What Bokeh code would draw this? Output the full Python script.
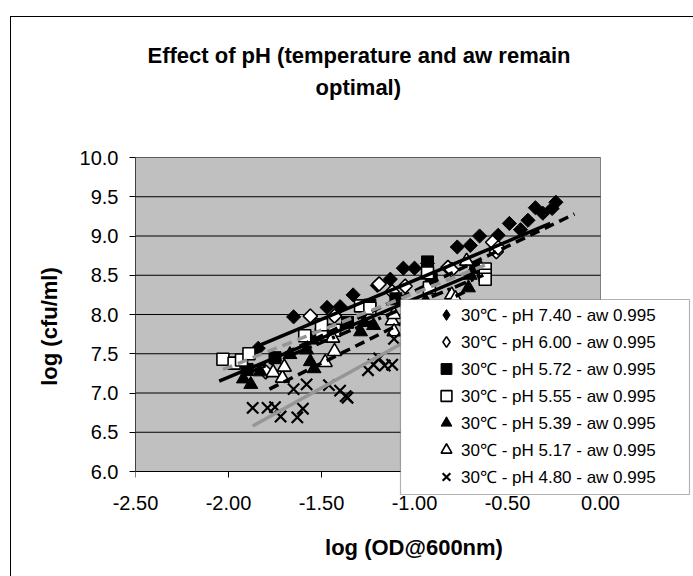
import math
import numpy as np
from bokeh.plotting import figure
from bokeh.models import (Legend, LegendItem, Range1d, FixedTicker,
                          NumeralTickFormatter, Title, BoxAnnotation)
from bokeh.embed import file_html
from bokeh.resources import INLINE

# ---------------- data ----------------
series_labels = [
    "30\u2103 - pH 7.40 - aw 0.995",
    "30\u2103 - pH 6.00 - aw 0.995",
    "30\u2103 - pH 5.72 - aw 0.995",
    "30\u2103 - pH 5.55 - aw 0.995",
    "30\u2103 - pH 5.39 - aw 0.995",
    "30\u2103 - pH 5.17 - aw 0.995",
    "30\u2103 - pH 4.80 - aw 0.995",
]

x_ph740 = [-1.84, -1.65, -1.47, -1.40, -1.33, -1.20, -1.13, -1.06, -1.00, -0.93,
           -0.77, -0.70, -0.65, -0.55, -0.49, -0.43, -0.39, -0.35, -0.31, -0.24, -0.26]
y_ph740 = [7.57, 7.97, 8.09, 8.10, 8.25, 8.37, 8.45, 8.59, 8.59, 8.65,
           8.86, 8.88, 9.00, 9.01, 9.16, 9.08, 9.20, 9.36, 9.29, 9.43, 9.35]

x_ph600 = [-1.80, -1.56, -1.43, -1.19, -1.12, -1.05, -0.82, -0.80, -0.58, -0.56, -0.55]
y_ph600 = [7.27, 7.98, 7.98, 8.39, 8.29, 8.36, 8.60, 8.57, 8.92, 8.80, 8.85]

x_ph572 = [-1.90, -1.75, -1.55, -1.36, -1.24, -1.10, -0.93, -0.91, -0.67, -0.63]
y_ph572 = [7.30, 7.45, 7.70, 7.90, 8.12, 8.20, 8.67, 8.45, 8.60, 8.55]

x_ph555 = [-2.03, -1.97, -1.93, -1.89, -1.59, -1.50, -1.50, -1.43, -1.29, -1.24,
           -0.93, -0.92, -0.62, -0.62, -0.62]
y_ph555 = [7.43, 7.38, 7.42, 7.50, 7.73, 7.75, 7.87, 7.80, 8.11, 8.08,
           8.53, 8.34, 8.58, 8.50, 8.45]

x_ph539 = [-1.92, -1.88, -1.83, -1.67, -1.58, -1.56, -1.54, -1.29, -1.27, -1.22,
           -0.94, -0.71, -0.70]
y_ph539 = [7.18, 7.11, 7.27, 7.49, 7.55, 7.40, 7.31, 7.78, 7.90, 7.86,
           8.17, 8.34, 8.50]

x_ph517 = [-1.76, -1.71, -1.70, -1.48, -1.43, -1.44, -1.12, -1.11, -1.11, -0.80, -0.78, -0.72]
y_ph517 = [7.26, 7.19, 7.33, 7.39, 7.53, 7.70, 7.92, 8.00, 7.78, 8.25, 8.20, 8.68]

x_ph480 = [-1.87, -1.79, -1.75, -1.72, -1.65, -1.63, -1.60, -1.58, -1.46, -1.40,
           -1.37, -1.36, -1.25, -1.22, -1.19, -1.16, -1.12, -1.11]
y_ph480 = [6.81, 6.81, 6.82, 6.70, 7.05, 6.69, 6.80, 7.11, 7.10, 7.03,
           6.96, 6.94, 7.29, 7.36, 7.44, 7.35, 7.36, 7.69]

# linear trend lines (start/end), one per series
trend_x_start = [-1.84, -1.85, -1.90, -2.03, -2.05, -1.78, -1.87]
trend_x_end = [-0.27, -0.14, -0.63, -0.62, -0.70, -0.72, -0.90]
trend_y_start = [7.60, 7.33, 7.25, 7.30, 7.15, 7.05, 6.58]
trend_y_end = [9.16, 9.28, 8.50, 8.63, 8.50, 8.30, 7.85]

x_ticks = [-2.5, -2.0, -1.5, -1.0, -0.5, 0.0]
y_ticks = [6.0, 6.5, 7.0, 7.5, 8.0, 8.5, 9.0, 9.5, 10.0]
x_min, x_max = -2.5, 0.0
y_min, y_max = 6.0, 10.0

xs_all = [x_ph740, x_ph600, x_ph572, x_ph555, x_ph539, x_ph517, x_ph480]
ys_all = [y_ph740, y_ph600, y_ph572, y_ph555, y_ph539, y_ph517, y_ph480]

# ---------------- styles ----------------
FONT = "Liberation Sans"
GRAY = "#969696"
PLOT_BG = "#C0C0C0"
marker_styles = [
    dict(marker="square", angle=math.pi / 4, size=10, fill_color="black", line_color="black", line_width=1),
    dict(marker="square", angle=math.pi / 4, size=10, fill_color="white", line_color="black", line_width=1.6),
    dict(marker="square", angle=0, size=12, fill_color="black", line_color="black", line_width=1),
    dict(marker="square", angle=0, size=12, fill_color="white", line_color="black", line_width=1.6),
    dict(marker="triangle", angle=0, size=14, fill_color="black", line_color="black", line_width=1),
    dict(marker="triangle", angle=0, size=14, fill_color="white", line_color="black", line_width=1.6),
    dict(marker="x", angle=0, size=16, fill_color="black", line_color="black", line_width=2.2),
]
legend_markers = ["diamond", "diamond", "square", "square", "triangle", "triangle", "x"]
line_styles = [
    dict(line_color="black", line_dash="solid"),
    dict(line_color="black", line_dash="10 6"),
    dict(line_color="black", line_dash="12 5 3 5"),
    dict(line_color=GRAY, line_dash="10 6"),
    dict(line_color="black", line_dash="solid"),
    dict(line_color="black", line_dash="10 6"),
    dict(line_color=GRAY, line_dash="solid"),
]

# canvas geometry: plot area x 135..600, y 157..471 ; frame extends to 692 / 495
PX_PER_X = 465 / (x_max - x_min)
PX_PER_Y = 314 / (y_max - y_min)
frame_x_end = x_max + (692 - 600) / PX_PER_X
frame_y_start = y_min - (495 - 471) / PX_PER_Y
TICK_LEN = 6 / PX_PER_Y

p = figure(width=693, height=576, output_backend="svg", toolbar_location=None,
           x_range=Range1d(x_min, frame_x_end), y_range=Range1d(frame_y_start, y_max),
           min_border_left=135, min_border_right=1, min_border_top=157,
           min_border_bottom=81)

p.background_fill_color = "white"
p.border_fill_color = None
p.outline_line_color = None
p.styles = {
    "background-image": "linear-gradient(#000, #000), linear-gradient(#000, #000)",
    "background-size": "1px 100%, 100% 1px",
    "background-position": "10px 16px, 10px 16px",
    "background-repeat": "no-repeat",
}

p.title.visible = False
title_kw = dict(align="left", text_font=FONT, text_font_size="22px",
                text_font_style="bold", text_color="black")
title_spacer = Title(text=" ", standoff=31, **title_kw)
title_line2 = Title(text="optimal)", standoff=0, offset=180, **title_kw)
title_line1 = Title(text="Effect of pH (temperature and aw remain", standoff=10, offset=12, **title_kw)
p.add_layout(title_spacer, "above")
p.add_layout(title_line2, "above")
p.add_layout(title_line1, "above")

p.xgrid.visible = False
p.ygrid.visible = False

p.xaxis.ticker = FixedTicker(ticks=x_ticks)
p.yaxis.ticker = FixedTicker(ticks=y_ticks)
p.xaxis.formatter = NumeralTickFormatter(format="0.00")
p.yaxis.formatter = NumeralTickFormatter(format="0.0")
for ax in (p.xaxis, p.yaxis):
    ax.major_label_text_font = FONT
    ax.major_label_text_font_size = "20px"
    ax.major_label_text_color = "black"
    ax.axis_label_text_font = FONT
    ax.axis_label_text_font_size = "22px"
    ax.axis_label_text_font_style = "bold"
    ax.axis_label_text_color = "black"
    ax.minor_tick_line_color = None
    ax.major_tick_in = 0
    ax.major_tick_line_color = "black"
p.xaxis.bounds = (x_min, x_max)
p.yaxis.bounds = (y_min, y_max)
p.yaxis.major_tick_out = 6
p.xaxis.major_tick_out = 0
p.xaxis.major_tick_line_color = None
p.xaxis.axis_line_color = None
p.yaxis.axis_line_color = "#404040"
p.xaxis.axis_label = "log (OD@600nm)"
p.yaxis.axis_label = "log (cfu/ml)"
p.xaxis.major_label_standoff = 0
p.xaxis.axis_label_standoff = 22
p.yaxis.major_label_standoff = 11
p.yaxis.axis_label_standoff = 15

# plot area, gridlines, x axis line and its tick marks
p.quad(left=[x_min], right=[x_max], bottom=[y_min], top=[y_max],
       fill_color=PLOT_BG, line_color="#808080", line_width=1)
grid_y = [t for t in y_ticks if t > y_min]
p.segment(x0=[x_min] * len(grid_y), y0=grid_y, x1=[x_max] * len(grid_y), y1=grid_y,
          line_color="black", line_width=1)
p.segment(x0=[x_min], y0=[y_min], x1=[x_max], y1=[y_min], line_color="black", line_width=1)
p.segment(x0=x_ticks, y0=[y_min] * len(x_ticks), x1=x_ticks,
          y1=[y_min - TICK_LEN] * len(x_ticks), line_color="black", line_width=1)

for xs, ys, st in zip(xs_all, ys_all, marker_styles):
    p.scatter(xs, ys, **st)

for x0, x1, y0, y1, ls in zip(trend_x_start, trend_x_end, trend_y_start, trend_y_end, line_styles):
    p.line([x0, x1], [y0, y1], line_width=3.5, **ls)

# legend-only renderers (not drawn) so the legend shows Excel-like symbols
legend_renderers = []
for mk, st in zip(legend_markers, marker_styles):
    kw = {k: v for k, v in st.items() if k not in ("marker", "angle", "size")}
    legend_renderers.append(p.scatter(x=np.array([np.nan]), y=np.array([np.nan]), marker=mk, **kw))

# legend box
p.add_layout(BoxAnnotation(left=400, right=689, top=299, bottom=494,
                           left_units="canvas", right_units="canvas",
                           top_units="canvas", bottom_units="canvas",
                           fill_color="white", fill_alpha=1.0,
                           line_color="black", line_width=1.2))

legend = Legend(items=[LegendItem(label=lbl, renderers=[r])
                       for lbl, r in zip(series_labels, legend_renderers)],
                location=(296, 5), orientation="vertical",
                background_fill_alpha=0.0, border_line_color=None,
                label_text_font=FONT, label_text_font_size="17px", label_text_color="black",
                glyph_width=30, glyph_height=27, label_height=27,
                spacing=0, padding=2, label_standoff=0, margin=0)
p.add_layout(legend, "center")

open("out.html", "w").write(file_html(p, INLINE))
